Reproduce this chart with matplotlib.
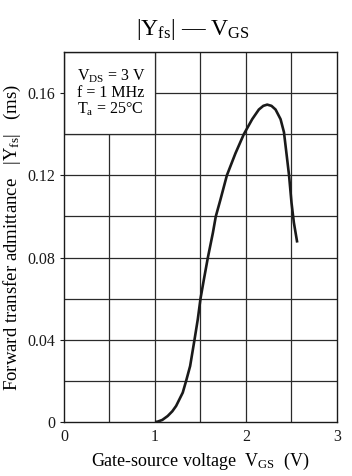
import matplotlib.pyplot as plt
from matplotlib.patches import Rectangle

plt.rcParams['font.family'] = ['Liberation Serif', 'DejaVu Serif']
plt.rcParams['mathtext.fontset'] = 'custom'
plt.rcParams['mathtext.rm'] = 'Liberation Serif'
plt.rcParams['mathtext.it'] = 'Liberation Serif:italic'

# |Yfs| vs VGS
vgs = [1.0, 1.03, 1.08, 1.139, 1.19, 1.232, 1.305, 1.342, 1.386, 1.434, 1.47, 1.5,
       1.537, 1.581, 1.636, 1.668, 1.718, 1.79, 1.884, 1.976, 2.068, 2.141,
       2.19, 2.233, 2.28, 2.325, 2.38, 2.417, 2.447, 2.473, 2.5, 2.526, 2.563]
yfs = [0.0, 0.0002, 0.001, 0.0029, 0.0052, 0.0078, 0.0143, 0.02, 0.0272, 0.04, 0.0499, 0.06,
       0.0693, 0.08, 0.092, 0.10, 0.108, 0.12, 0.1307, 0.14, 0.1473, 0.152,
       0.1538, 0.1544, 0.1538, 0.152, 0.1473, 0.141, 0.1298, 0.12, 0.1067, 0.097, 0.0873]

xticks = [0, 1, 2, 3]
yticks = [0, 0.04, 0.08, 0.12, 0.16]
ytick_labels = ['0', '0.04', '0.08', '0.12', '0.16']

fig = plt.figure(figsize=(3.52, 4.76), dpi=100)
ax = fig.add_axes([64/352, 1 - 422/476, 273/352, 370/476])

for xv in [0.5, 1, 1.5, 2, 2.5]:
    ax.axvline(xv, color='#2a2a2a', lw=0.9, zorder=0.5)
for yv in [0.02, 0.04, 0.06, 0.08, 0.10, 0.12, 0.14, 0.16]:
    ax.axhline(yv, color='#2a2a2a', lw=0.9, zorder=0.5)

ax.add_patch(Rectangle((0, 0.14), 1, 0.04, facecolor='white', edgecolor='#2a2a2a',
                       lw=0.9, zorder=1))
ax.text(0.14, 0.168, r'$\mathregular{V_{DS}}$ = 3 V', fontsize=11.5, va='center', zorder=2)
ax.text(0.14, 0.160, 'f = 1 MHz', fontsize=11.5, va='center', zorder=2)
ax.text(0.14, 0.152, r'$\mathregular{T_{a}}$ = 25°C', fontsize=11.5, va='center', zorder=2)

ax.plot(vgs, yfs, color='#1a1a1a', lw=1.9, solid_capstyle='butt', zorder=3)

ax.set_xlim(0, 3)
ax.set_ylim(0, 0.18)
ax.set_xticks(xticks)
ax.set_xticklabels([str(v) for v in xticks])
ax.set_yticks(yticks)
ax.set_yticklabels(ytick_labels)
ax.tick_params(labelsize=11.5, length=3, width=0.8, colors='#1a1a1a')
ax.tick_params(axis='x', length=0, pad=5)
for s in ax.spines.values():
    s.set_color('#1a1a1a')
    s.set_linewidth(1.0)

ax.set_xlabel(r'Gate-source voltage  $\mathregular{V_{GS}}$  (V)', fontsize=13, labelpad=4)
ax.set_ylabel(r'Forward transfer admittance   |$\mathregular{Y_{fs}}$|   (ms)', fontsize=13.5, labelpad=3)

fig.text(193 / 352, 1 - 29 / 476,
         r'|$\mathregular{Y_{fs}}$| — $\mathregular{V_{GS}}$',
         fontsize=17, ha='center', va='center')

fig.savefig('out.png', dpi=100)
